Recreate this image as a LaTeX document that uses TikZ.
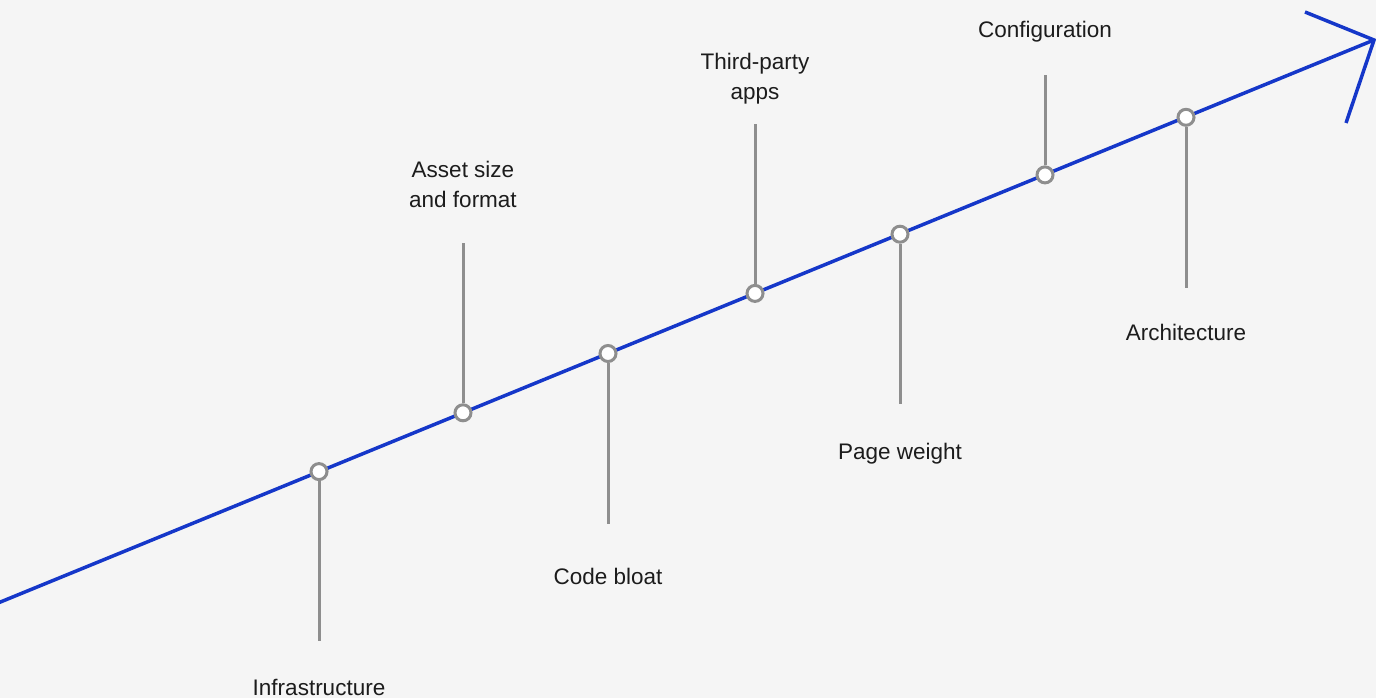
\documentclass[tikz,border=0pt]{standalone}
\usepackage{fontspec}
\setmainfont{Liberation Sans}
\usetikzlibrary{positioning}
\definecolor{lineblue}{HTML}{1537C9}
\definecolor{stemgray}{HTML}{8E8E8E}
\definecolor{bggray}{HTML}{F5F5F5}
\definecolor{textdark}{HTML}{1C1C1C}
\tikzset{
    marker/.style = {circle, line width=3pt, draw=stemgray, fill=white, minimum size=16pt, inner sep=0pt},
    lbl/.style = {align=center, anchor=base, text=textdark, font=\fontsize{22.5pt}{30pt}\selectfont, inner sep=0pt},
    stem/.style = {-, line width=3pt, stemgray},
    axis/.style = {-, line width=3.5pt, lineblue},
}

\begin{document}
\begin{tikzpicture}[x=1pt,y=-1pt]
\fill[bggray] (0,0) rectangle (1376,698);
\path[use as bounding box] (0,0) rectangle (1376,698);

%
\coordinate (start) at (-2,603);
\coordinate (tip) at (1374,40);
\coordinate (barbA) at (1305,12);
\coordinate (barbB) at (1346,123);
\draw[axis] (start) -- (tip);
\draw[axis, line join=miter] (barbA) -- (tip) -- (barbB);

%
\coordinate (s1) at (319,641);
\coordinate (s2) at (463,243);
\coordinate (s3) at (608,524);
\coordinate (s4) at (755,124);
\coordinate (s5) at (900,404);
\coordinate (s6) at (1045,75);
\coordinate (s7) at (1186,288);
%
\node[marker] at (319,471.6) (m1) {};
\node[marker] at (463,412.8) (m2) {};
\node[marker] at (608,353.5) (m3) {};
\node[marker] at (755,293.4) (m4) {};
\node[marker] at (900,234.2) (m5) {};
\node[marker] at (1045,174.9) (m6) {};
\node[marker] at (1186,117.3) (m7) {};
%
\draw[stem] (m1) -- (s1);
\draw[stem] (m2) -- (s2);
\draw[stem] (m3) -- (s3);
\draw[stem] (m4) -- (s4);
\draw[stem] (m5) -- (s5);
\draw[stem] (m6) -- (s6);
\draw[stem] (m7) -- (s7);
%
\node[lbl] at (319,695) (infra) {Infrastructure};
\node[lbl] at (463,207) (asset) {Asset size\\and format};
\node[lbl] at (608,584) (bloat) {Code bloat};
\node[lbl] at (755,100) (third) {Third-party\\apps};
\node[lbl] at (900,459) (weight) {Page weight};
\node[lbl] at (1045,38) (config) {Configuration};
\node[lbl] at (1186,340) (arch) {Architecture};

\end{tikzpicture}
\end{document}
